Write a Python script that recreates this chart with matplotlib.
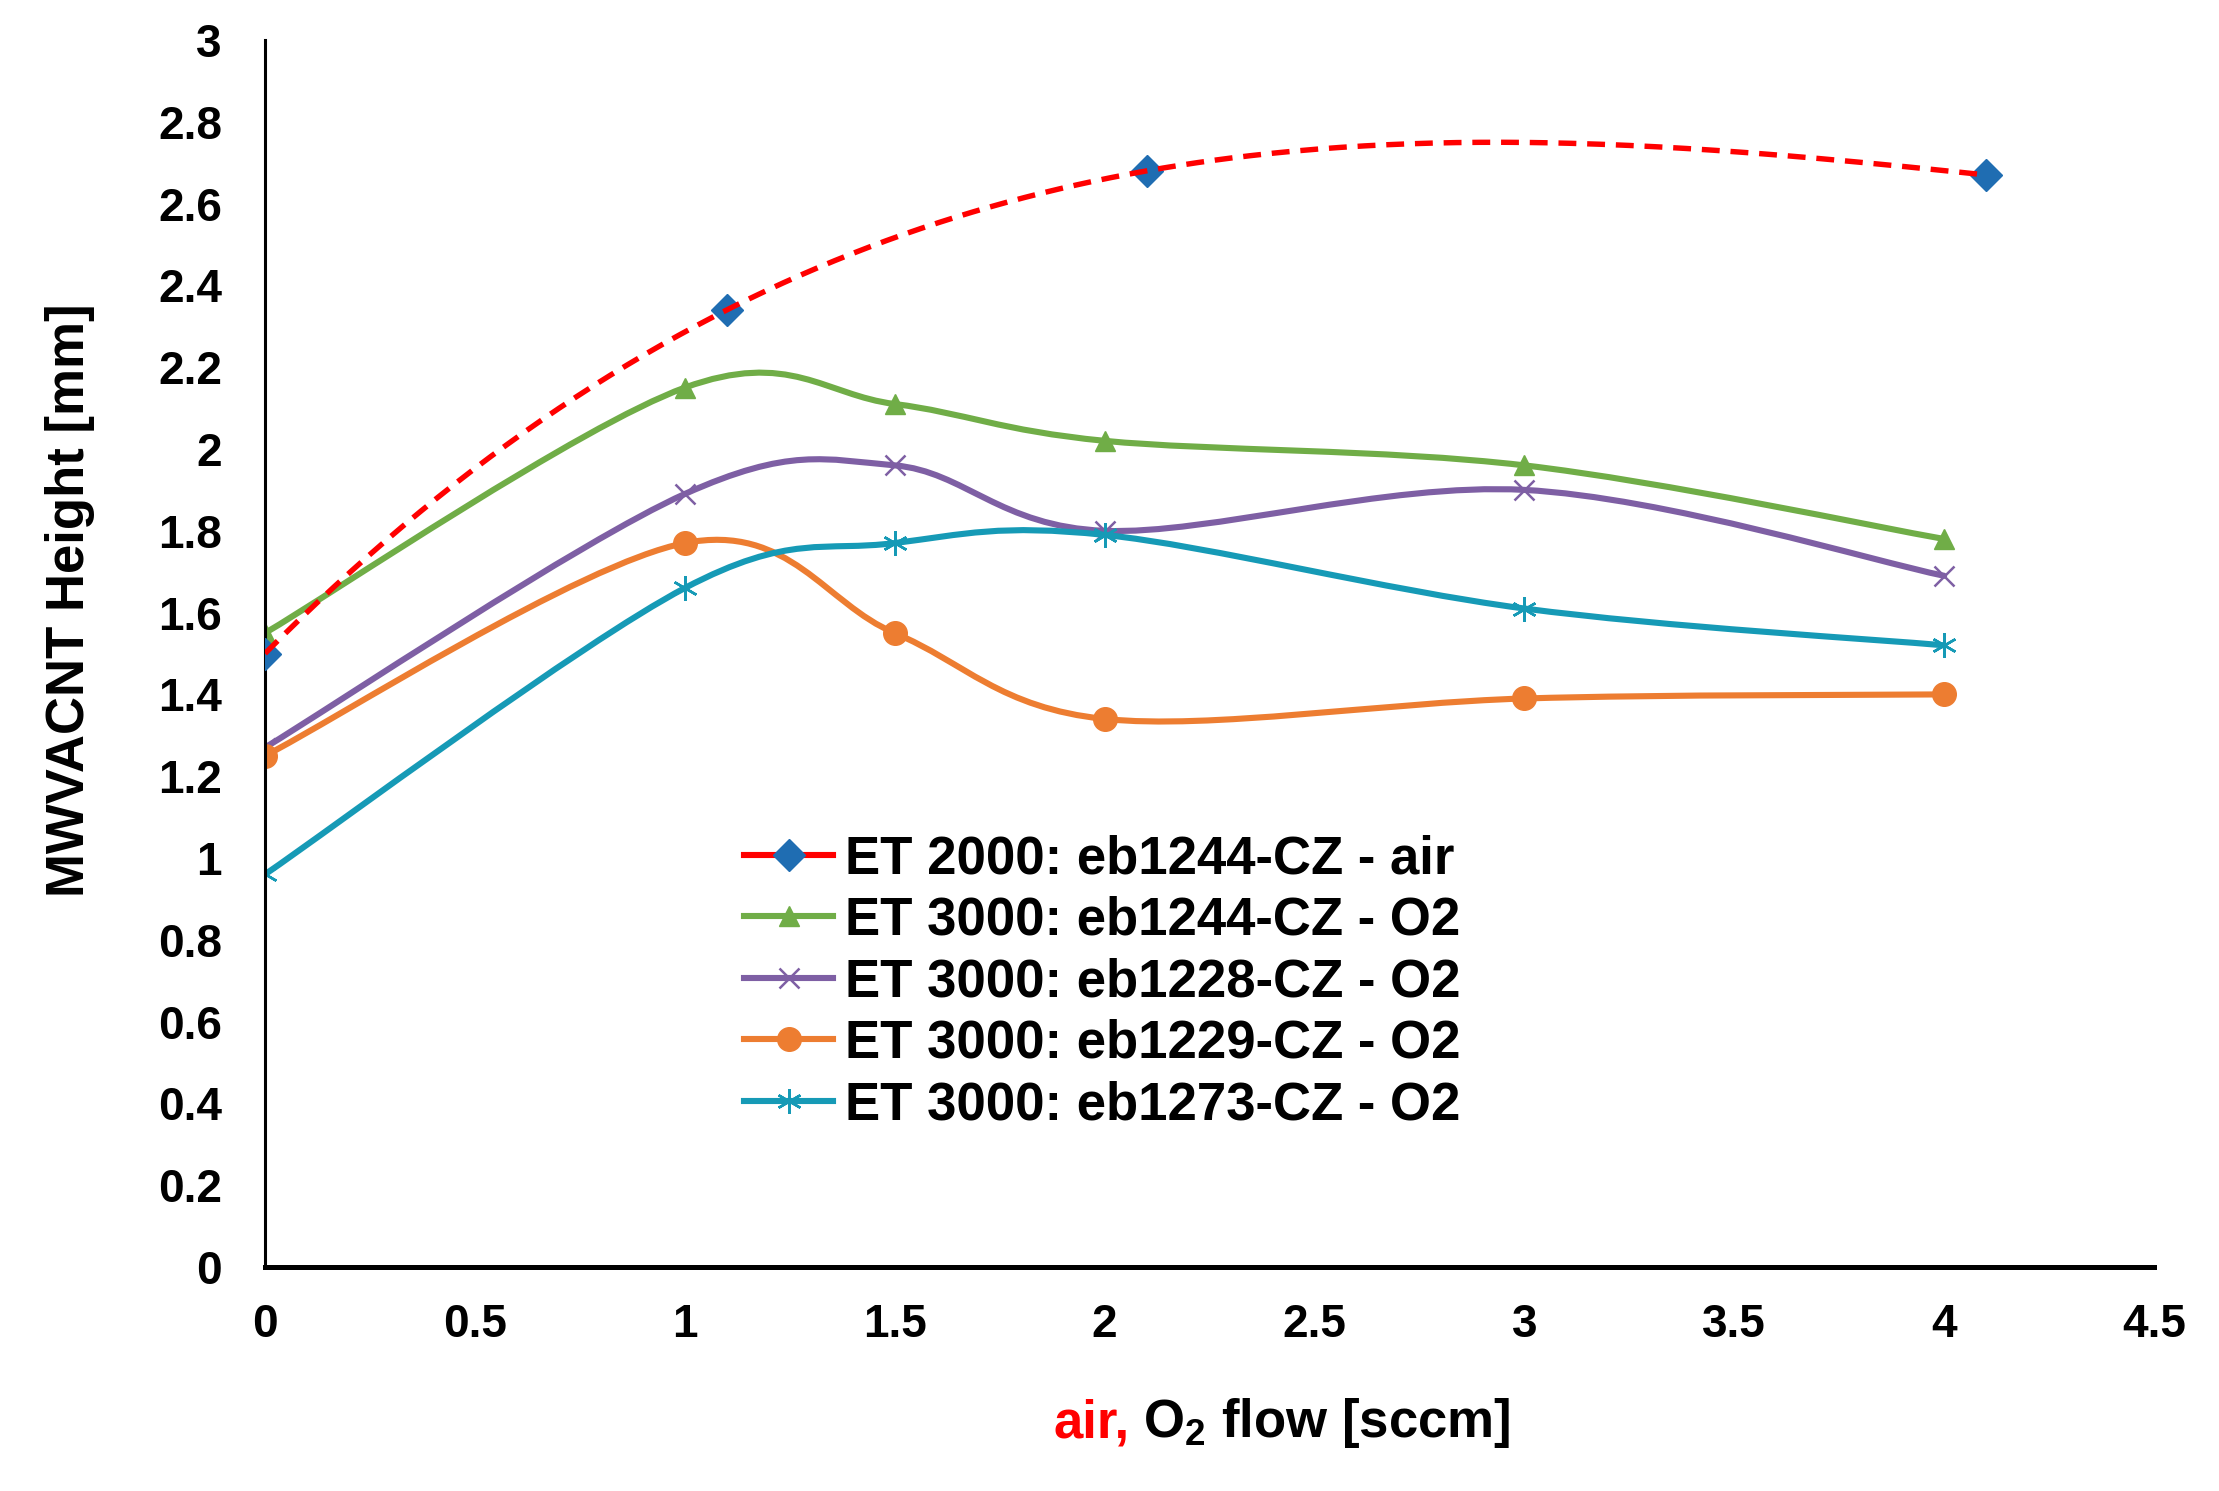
import numpy as np
import matplotlib
matplotlib.use("Agg")
import matplotlib.pyplot as plt
from matplotlib.path import Path
from matplotlib.patches import PathPatch
from matplotlib.lines import Line2D
from matplotlib.ticker import MultipleLocator, FuncFormatter

# ET 2000 / air series has its own x positions
air_x = [0, 1.1, 2.1, 4.1]
air_y = [1.50, 2.34, 2.68, 2.67]

# ET 3000 / O2 series
o2_x = [0, 1, 1.5, 2, 3, 4]
eb1244_o2 = [1.55, 2.15, 2.11, 2.02, 1.96, 1.78]
eb1228_o2 = [1.27, 1.89, 1.96, 1.80, 1.90, 1.69]
eb1229_o2 = [1.25, 1.77, 1.55, 1.34, 1.39, 1.40]
eb1273_o2 = [0.96, 1.66, 1.77, 1.79, 1.61, 1.52]

labels = [
    "ET 2000: eb1244-CZ - air",
    "ET 3000: eb1244-CZ - O2",
    "ET 3000: eb1228-CZ - O2",
    "ET 3000: eb1229-CZ - O2",
    "ET 3000: eb1273-CZ - O2",
]

RED = "#FF0000"
BLUE = "#1F6DB2"
GREEN = "#70AD47"
PURPLE = "#7E5FA4"
ORANGE = "#ED7D31"
CYAN = "#169AB6"

plt.rcParams.update({
    "font.family": ["Liberation Sans", "DejaVu Sans"],
    "font.weight": "bold",
    "mathtext.fontset": "custom",
    "mathtext.rm": "Liberation Sans:bold",
    "mathtext.it": "Liberation Sans:bold:italic",
    "mathtext.bf": "Liberation Sans:bold",
})


def smooth_path(x, y):
    # excel-like smoothed line: catmull-rom as cubic bezier segments
    pts = np.column_stack([x, y]).astype(float)
    n = len(pts)
    verts = [pts[0]]
    codes = [Path.MOVETO]
    for i in range(n - 1):
        p0 = pts[max(i - 1, 0)]
        p1 = pts[i]
        p2 = pts[i + 1]
        p3 = pts[min(i + 2, n - 1)]
        c1 = p1 + (p2 - p0) / 6
        c2 = p2 - (p3 - p1) / 6
        verts += [c1, c2, p2]
        codes += [Path.CURVE4] * 3
    return Path(verts, codes)


W, H = 2219, 1491
fig = plt.figure(figsize=(W / 100, H / 100), dpi=100)
ax = fig.add_axes([265 / W, 1 - 1267 / H, (2154 - 265) / W, (1267 - 40) / H])

LW = 4.4
series = [
    (eb1244_o2, GREEN, dict(marker="^", markersize=15)),
    (eb1228_o2, PURPLE, dict(marker="x", markersize=15, markeredgewidth=1.8)),
    (eb1229_o2, ORANGE, dict(marker="o", markersize=17)),
    (eb1273_o2, CYAN, dict(marker=(6, 2, 0), markersize=18, markeredgewidth=1.8)),
]

# air series: markers + cubic trendline on top
ax.plot(air_x, air_y, ls="none", marker="D", markersize=16, color=BLUE, zorder=3)

handles = [Line2D([], [], color=RED, lw=LW, marker="D", markersize=16,
                  markerfacecolor=BLUE, markeredgecolor=BLUE)]

for k, (vals, col, mk) in enumerate(series):
    patch = PathPatch(smooth_path(o2_x, vals), fill=False, edgecolor=col,
                      lw=LW, capstyle="round", joinstyle="round", zorder=2 + k * 0.1)
    ax.add_patch(patch)
    ax.plot(o2_x, vals, ls="none", color=col, zorder=2.05 + k * 0.1, **mk)
    handles.append(Line2D([], [], color=col, lw=LW, **mk))

coef = np.polyfit(air_x, air_y, 3)
xs = np.linspace(air_x[0], air_x[-1], 300)
trend, = ax.plot(xs, np.polyval(coef, xs), color=RED, lw=3.9, zorder=5)
trend.set_dashes([3.3, 2.0])

ax.set_xlim(0, 4.5)
ax.set_ylim(0, 3)
ax.xaxis.set_major_locator(MultipleLocator(0.5))
ax.yaxis.set_major_locator(MultipleLocator(0.2))
fmt = FuncFormatter(lambda v, p: f"{round(v, 2):g}")
ax.xaxis.set_major_formatter(fmt)
ax.yaxis.set_major_formatter(fmt)
ax.tick_params(axis="both", length=0, labelsize=33)
ax.tick_params(axis="y", pad=31)
ax.tick_params(axis="x", pad=26)

for s in ["top", "right"]:
    ax.spines[s].set_visible(False)
ax.spines["left"].set_linewidth(2.2)
ax.spines["bottom"].set_linewidth(3.6)

leg = ax.legend(handles, labels, loc="upper left",
                bbox_to_anchor=(744 / W, 1 - 834 / H), bbox_transform=fig.transFigure,
                frameon=False, fontsize=38, handlelength=1.69, handletextpad=0.23,
                labelspacing=0.22, borderpad=0, borderaxespad=0)

fig.text(70 / W, 1 - 600 / H, "MWVACNT Height [mm]", rotation=90,
         ha="center", va="center", fontsize=38)

# x label: red "air," followed by black O2 flow
fig.canvas.draw()
r = fig.canvas.get_renderer()
ty = 1 - 1437 / H
t1 = fig.text(0, ty, "air,", color=RED, fontsize=38, ha="left", va="baseline")
t2 = fig.text(0, ty, r"O$_2$ flow [sccm]", color="black", fontsize=38, ha="left", va="baseline")
w1 = t1.get_window_extent(r).width
w2 = t2.get_window_extent(r).width
gap = 14
x0 = 1282 - (w1 + gap + w2) / 2
t1.set_x(x0 / W)
t2.set_x((x0 + w1 + gap) / W)

fig.savefig("out.png", dpi=100)
